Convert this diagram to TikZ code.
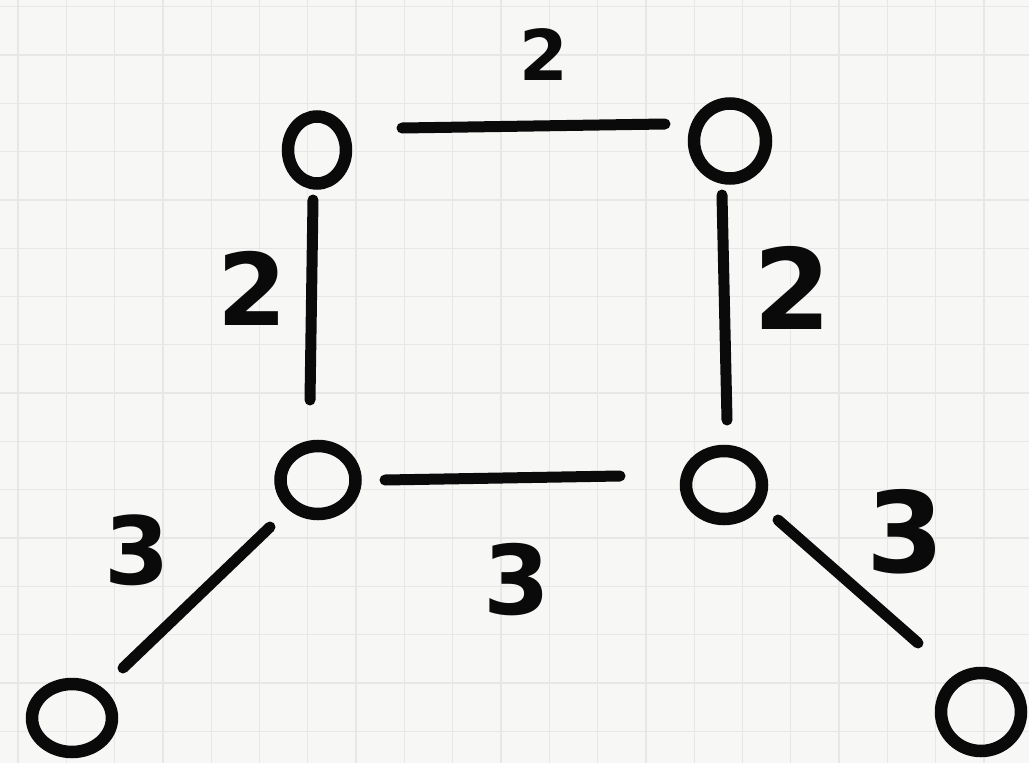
\documentclass[tikz,border=0pt]{standalone}
\usepackage{fontspec}
\setsansfont{DejaVu Sans}
\usetikzlibrary{shapes.geometric,calc}
\definecolor{paper}{HTML}{F7F7F6}
\definecolor{gridc}{HTML}{E7E7E5}
\definecolor{ink}{HTML}{0A0A0A}
\tikzset{
  vtx/.style={ellipse, draw=ink, line width=12.5pt, inner sep=0pt},
  edge/.style={draw=ink, line width=11pt, line cap=round},
  lbl/.style={text=ink, inner sep=0pt},
  gridline/.style={draw=gridc, line width=1.3pt}
}
\newcommand{\lblfont}[1]{\fontsize{#1}{#1}\selectfont\sffamily\bfseries}
\begin{document}
\begin{tikzpicture}[x=1pt,y=-1pt]
\useasboundingbox (0,0) rectangle (1029,763);
\fill[paper] (0,0) rectangle (1029,763);
\foreach \i in {0,...,21} {
  \draw[gridline] ({18+48.3*\i},0) -- ({18+48.3*\i},763);
}
\foreach \j in {0,...,15} {
  \draw[gridline] (0,{6.7+48.3*\j}) -- (1029,{6.7+48.3*\j});
}
% vertices
\node[vtx, minimum width=58pt, minimum height=67pt] (TL) at (317,150) {};
\node[vtx, minimum width=72pt, minimum height=75pt] (TR) at (730,141) {};
\node[vtx, minimum width=75pt, minimum height=68pt] (BL) at (318,480) {};
\node[vtx, minimum width=76pt, minimum height=68pt] (BR) at (724,485) {};
\node[vtx, minimum width=80pt, minimum height=68pt] (FBL) at (72,718) {};
\node[vtx, minimum width=80pt, minimum height=78pt] (FBR) at (981,712) {};
% edges
\draw[edge] ($(TL)+(85,-22)$) -- ($(TR)+(-65,-17)$);
\draw[edge] ($(TL)+(-4,50)$) -- ($(BL)+(-8,-80)$);
\draw[edge] ($(TR)+(-8,54)$) -- ($(BR)+(3,-65)$);
\draw[edge] ($(BL)+(67,0)$) -- ($(BR)+(-104,-9)$);
\draw[edge] ($(BL)+(-48,47)$) -- ($(FBL)+(51,-50)$);
\draw[edge] ($(BR)+(54,35)$) -- ($(FBR)+(-63,-69)$);
% labels
\node[lbl, font=\lblfont{70}] (l1) at (544,55) {2};
\node[lbl, font=\lblfont{100}] (l2) at (252,288) {2};
\node[lbl, font=\lblfont{112}] (l3) at (792,288) {2};
\node[lbl, font=\lblfont{96}] (l4) at (517,580) {3};
\node[lbl, font=\lblfont{94}] (l5) at (137,550) {3};
\node[lbl, font=\lblfont{112}] (l6) at (905,532) {3};
\end{tikzpicture}
\end{document}
